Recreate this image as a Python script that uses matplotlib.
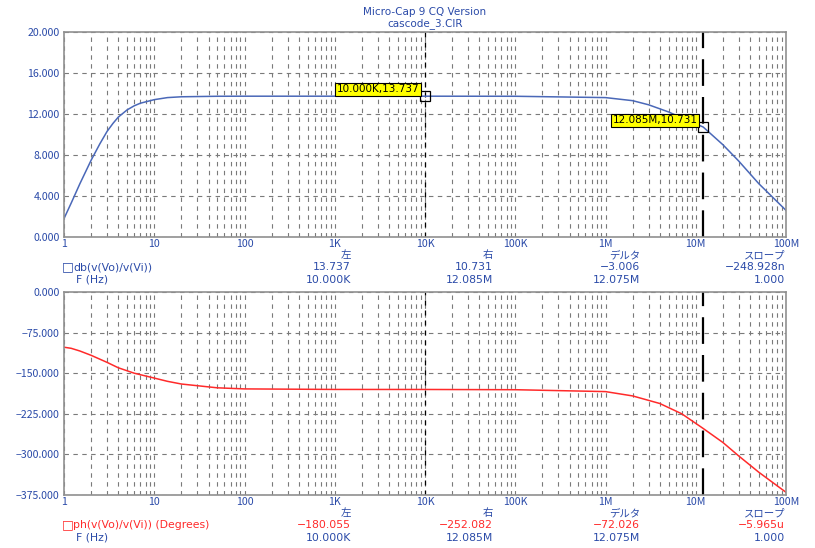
import numpy as np
import matplotlib
matplotlib.use('Agg')
import matplotlib.pyplot as plt
from matplotlib.ticker import FixedLocator, NullFormatter

plt.rcParams['font.family'] = ['Noto Sans CJK JP', 'DejaVu Sans']

# Data
freq_gain = [1, 1.2, 1.5, 2, 2.5, 3, 3.5, 4, 5, 6, 7, 10, 14, 20, 50, 1e2,
             1e3, 1e4, 1e5, 1e6, 2e6, 3e6, 5e6, 8e6, 12.085e6, 2e7, 3e7,
             5e7, 1e8]
gain_db = [1.8, 3.3, 5.2, 7.5, 9.1, 10.3, 11.1, 11.7, 12.4, 12.8, 13.05,
           13.4, 13.6, 13.68, 13.73, 13.737, 13.737, 13.737, 13.73, 13.6,
           13.3, 12.9, 12.2, 11.4, 10.731, 9.0, 7.4, 5.2, 2.6]

freq_phase = [1, 1.2, 1.5, 2, 3, 4, 6, 10, 14, 20, 50, 1e2, 1e3, 1e4, 1e5,
              1e6, 2e6, 4e6, 7e6, 12.085e6, 2e7, 3e7, 5e7, 1e8]
phase_deg = [-102, -104, -109, -117, -130, -140, -150, -159, -165, -170,
             -177, -179, -180, -180.055, -180.5, -184, -192, -206, -225,
             -252.082, -278, -303, -333, -370]

x_ticks = [1, 10, 100, 1e3, 1e4, 1e5, 1e6, 1e7, 1e8]
x_labels = ['1', '10', '100', '1K', '10K', '100K', '1M', '10M', '100M']
gain_ticks = [0, 4, 8, 12, 16, 20]
phase_ticks = [0, -75, -150, -225, -300, -375]

cursor_left = 1e4
cursor_right = 12.085e6

col_heads = ['左', '右', 'デルタ', 'スロープ']
gain_vals = ['13.737', '10.731', '\u22123.006', '\u2212248.928n']
phase_vals = ['\u2212180.055', '\u2212252.082', '\u221272.026', '\u22125.965u']
freq_vals = ['10.000K', '12.085M', '12.075M', '1.000']

blue_txt = '#2a4aa8'
blue_line = '#4a68b8'
red = '#ff2a2a'
grid_col = '#7a7a7a'

fig = plt.figure(figsize=(8.15, 5.48), dpi=100)
ax1 = fig.add_axes([64/815, 1-237/548, 722/815, 205/548])
ax2 = fig.add_axes([64/815, 1-495/548, 722/815, 203/548])

minor = [m * 10**d for d in range(0, 8) for m in range(2, 10)]


def style(ax, yticks, ylim):
    ax.set_xscale('log')
    ax.set_xlim(1, 1e8)
    ax.set_ylim(*ylim)
    ax.xaxis.set_major_locator(FixedLocator(x_ticks))
    ax.xaxis.set_minor_locator(FixedLocator(minor))
    ax.xaxis.set_minor_formatter(NullFormatter())
    ax.set_xticklabels(x_labels)
    ax.set_yticks(yticks)
    ax.set_yticklabels([f'{v:.3f}'.replace('-', '\u2212') for v in yticks])
    ax.tick_params(axis='both', which='both', length=0, labelsize=7.6,
                   labelcolor=blue_txt, pad=3)
    ax.tick_params(axis='x', pad=1.5)
    ax.grid(True, which='major', axis='both', color=grid_col,
            linestyle=(0, (4, 4)), linewidth=0.8)
    ax.grid(True, which='minor', axis='x', color=grid_col,
            linestyle=(0, (4, 4)), linewidth=0.8)
    for s in ax.spines.values():
        s.set_color('#909090')
        s.set_linewidth(1.2)
    ax.axvline(cursor_left, color='black', linestyle=(0, (4, 4)), linewidth=0.9)
    ax.axvline(cursor_right, color='black', linestyle=(0, (12, 5)), linewidth=1.6)


style(ax1, gain_ticks, (0, 20))
style(ax2, phase_ticks, (-375, 0))

ax1.plot(freq_gain, gain_db, color=blue_line, linewidth=1.1)
ax2.plot(freq_phase, phase_deg, color=red, linewidth=1.1)

# Cursor markers and labels on the gain plot
for fx, fy, txt in [(cursor_left, 13.737, '10.000K,13.737'),
                    (cursor_right, 10.731, '12.085M,10.731')]:
    ax1.plot([fx], [fy], marker='s', markersize=7, markerfacecolor='none',
             markeredgecolor='black', markeredgewidth=0.9)
    ax1.annotate(txt, (fx, fy), xytext=(-4, 5), textcoords='offset points',
                 ha='right', va='center', fontsize=7.5, color='black',
                 family='DejaVu Sans',
                 bbox=dict(boxstyle='square,pad=0.15', fc='#ffff00',
                           ec='black', lw=0.8))

# Titles
fig.text(425/815, 1-12/548, 'Micro-Cap 9 CQ Version', ha='center', va='center',
         fontsize=7.5, color=blue_txt, family='DejaVu Sans')
fig.text(425/815, 1-24/548, 'cascode_3.CIR', ha='center', va='center',
         fontsize=7.5, color=blue_txt, family='DejaVu Sans')

# Cursor readout tables
col_x = [351, 493, 640, 785]


def readout(y0, name, name_col, vals, val_col):
    fig.text(62/815, 1-(y0+13)/548, '\u25a1', ha='left', va='center',
             fontsize=9, color=name_col, family='DejaVu Sans')
    fig.text(73/815, 1-(y0+13)/548, name, ha='left', va='center',
             fontsize=7.8, color=name_col, family='DejaVu Sans')
    fig.text(76/815, 1-(y0+26)/548, 'F (Hz)', ha='left', va='center',
             fontsize=7.8, color=blue_txt, family='DejaVu Sans')
    for cx, head, v, fv in zip(col_x, col_heads, vals, freq_vals):
        fig.text(cx/815, 1-(y0+1)/548, head, ha='right', va='center',
                 fontsize=7.5, color=blue_txt)
        fig.text(cx/815, 1-(y0+13)/548, v, ha='right', va='center',
                 fontsize=7.8, color=val_col, family='DejaVu Sans')
        fig.text(cx/815, 1-(y0+26)/548, fv, ha='right', va='center',
                 fontsize=7.8, color=blue_txt, family='DejaVu Sans')


readout(254, 'db(v(Vo)/v(Vi))', blue_txt, gain_vals, blue_txt)
readout(512, 'ph(v(Vo)/v(Vi)) (Degrees)', red, phase_vals, red)

fig.savefig('out.png', dpi=100, facecolor='white')
